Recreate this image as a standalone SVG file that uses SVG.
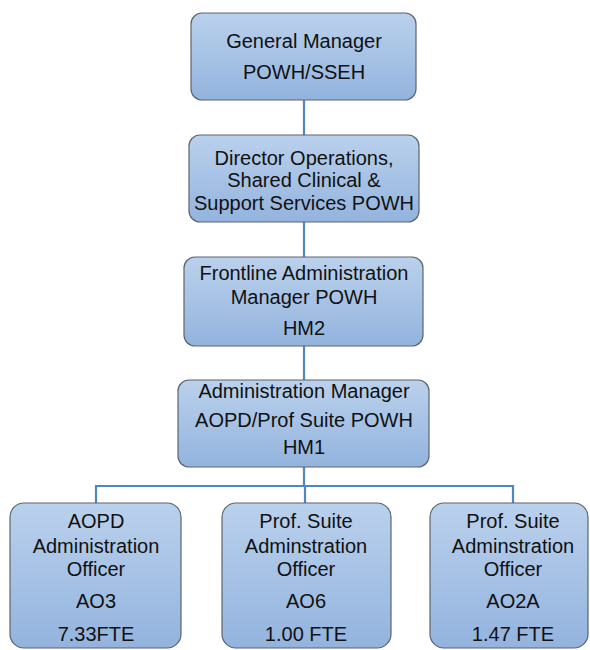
<svg xmlns="http://www.w3.org/2000/svg" width="590" height="650" viewBox="0 0 590 650">
  <style>
    .box { fill: url(#boxFill); stroke: #5c6470; stroke-width: 1.2; }
    .lbl { font-family: "Liberation Sans", Arial, sans-serif; font-size: 20px; fill: #111; text-anchor: middle; }
    .link { stroke: #4f87c2; stroke-width: 2.2; fill: none; }
  </style>
  <defs>
    <linearGradient id="boxFill" x1="0" y1="0" x2="0" y2="1">
      <stop offset="0" stop-color="#bad1ec"/>
      <stop offset="1" stop-color="#93b3de"/>
    </linearGradient>
  </defs>

  <!-- reporting lines -->
  <g id="connectors">
    <line class="link" x1="304" y1="100" x2="304" y2="135"/>
    <line class="link" x1="304" y1="222" x2="304" y2="257"/>
    <line class="link" x1="304" y1="346" x2="304" y2="380"/>
    <polyline class="link" points="304,467 304,486"/>
    <polyline class="link" points="96,503 96,486 513,486 513,503"/>
    <line class="link" x1="305" y1="486" x2="305" y2="503"/>
  </g>

  <g id="general-manager">
    <rect class="box" x="191" y="13" width="225" height="87" rx="11"/>
    <text class="lbl" x="304" y="48">General Manager</text>
    <text class="lbl" x="304" y="79">POWH/SSEH</text>
  </g>

  <g id="director-operations">
    <rect class="box" x="189" y="135" width="230" height="87" rx="11"/>
    <text class="lbl" x="304" y="165">Director Operations,</text>
    <text class="lbl" x="304" y="187">Shared Clinical &amp;</text>
    <text class="lbl" x="304" y="210">Support Services POWH</text>
  </g>

  <g id="frontline-admin-manager">
    <rect class="box" x="184" y="257" width="239" height="89" rx="11"/>
    <text class="lbl" x="304" y="280">Frontline Administration</text>
    <text class="lbl" x="304" y="304">Manager POWH</text>
    <text class="lbl" x="304" y="335">HM2</text>
  </g>

  <g id="admin-manager">
    <rect class="box" x="178" y="380" width="251" height="87" rx="11"/>
    <text class="lbl" x="304" y="398">Administration Manager</text>
    <text class="lbl" x="304" y="427">AOPD/Prof Suite POWH</text>
    <text class="lbl" x="304" y="454">HM1</text>
  </g>

  <g id="aopd-officer">
    <rect class="box" x="10" y="503" width="171" height="145" rx="14"/>
    <text class="lbl" x="96" y="528">AOPD</text>
    <text class="lbl" x="96" y="553">Administration</text>
    <text class="lbl" x="96" y="576">Officer</text>
    <text class="lbl" x="96" y="608">AO3</text>
    <text class="lbl" x="96" y="641">7.33FTE</text>
  </g>

  <g id="prof-suite-officer-ao6">
    <rect class="box" x="222" y="503" width="169" height="145" rx="14"/>
    <text class="lbl" x="306" y="528">Prof. Suite</text>
    <text class="lbl" x="306" y="553">Adminstration</text>
    <text class="lbl" x="306" y="576">Officer</text>
    <text class="lbl" x="306" y="608">AO6</text>
    <text class="lbl" x="306" y="641">1.00 FTE</text>
  </g>

  <g id="prof-suite-officer-ao2a">
    <rect class="box" x="430" y="503" width="158" height="145" rx="14"/>
    <text class="lbl" x="513" y="528">Prof. Suite</text>
    <text class="lbl" x="513" y="553">Adminstration</text>
    <text class="lbl" x="513" y="576">Officer</text>
    <text class="lbl" x="513" y="608">AO2A</text>
    <text class="lbl" x="513" y="641">1.47 FTE</text>
  </g>
</svg>
